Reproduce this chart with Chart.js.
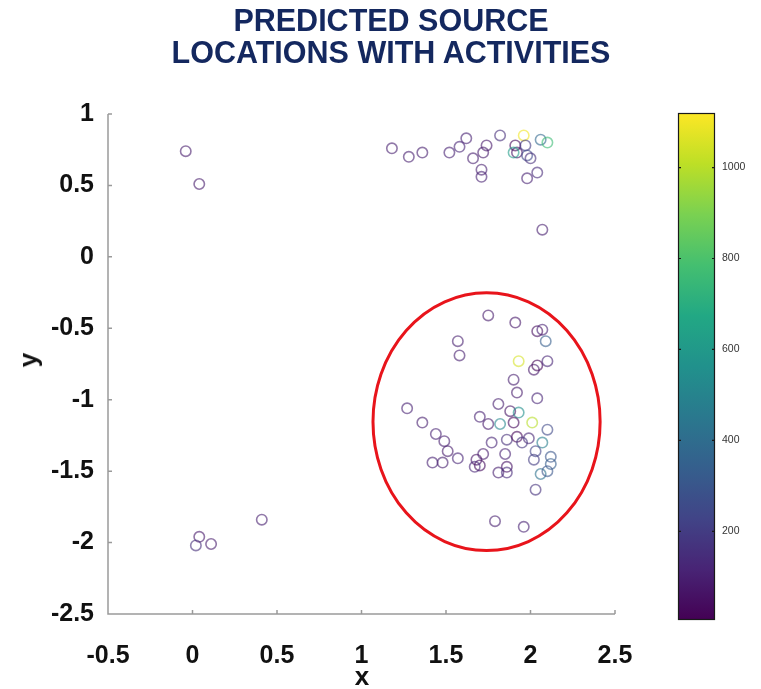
<!DOCTYPE html>
<html>
<head>
<meta charset="utf-8">
<script src="https://cdn.jsdelivr.net/npm/chart.js@4/dist/chart.umd.min.js"></script>
<style>
  html, body { margin: 0; padding: 0; background: #fff; }
  #wrap { position: relative; width: 761px; height: 689px; overflow: hidden;
          font-family: "Liberation Sans", Arial, sans-serif; }
  #title { position: absolute; left: 0; top: 4px; width: 782px; text-align: center;
           color: #14285f; font-weight: bold; font-size: 30.5px; line-height: 32px; }
  #main { position: absolute; left: 0; top: 0; }
  #cbar { position: absolute; left: 660px; top: 0; }
  .axt { position: absolute; font-weight: bold; font-size: 26px; color: #111; line-height: 1; }
  #xt { left: 362px; top: 676px; transform: translate(-50%, -50%); }
  #yt { left: 28px; top: 360px; transform: translate(-50%, -50%) rotate(-90deg); }
</style>
</head>
<body>
<div id="wrap">
  <canvas id="main" width="761" height="689" style="width:761px;height:689px"></canvas>
  <canvas id="cbar" width="101" height="689" style="width:101px;height:689px"></canvas>
  <div id="title">PREDICTED SOURCE<br>LOCATIONS WITH ACTIVITIES</div>
  <div class="axt" id="xt">x</div>
  <div class="axt" id="yt">y</div>
</div>
<script>
// Predicted source positions and their activities
const xs = [
  -0.04, 0.04, 0.41, 0.04, 0.02, 0.11,
  1.18, 1.28, 1.36, 1.52, 1.58, 1.62, 1.66, 1.72, 1.74, 1.71, 1.71, 1.82,
  1.91, 1.92, 1.96, 1.97, 1.90, 1.98, 2.00, 2.06, 2.10, 2.04, 1.98, 2.07,
  1.75, 1.91, 2.04, 2.07, 2.09, 1.57, 1.58, 1.93, 2.02, 2.04, 2.10, 1.90,
  1.92, 2.04, 1.27, 1.81, 1.36, 1.70, 1.88, 1.93, 1.75, 1.82, 1.90, 2.01,
  2.10, 1.44, 1.49, 1.51, 1.57, 1.42, 1.48, 1.77, 1.86, 1.92, 1.95, 1.99,
  2.07, 2.03, 1.72, 1.68, 1.70, 1.67, 1.85, 1.86, 1.81, 1.86, 2.02, 2.12,
  2.12, 2.06, 2.10, 2.03, 1.79, 1.96
];
const ys = [
  0.74, 0.51, -1.84, -1.96, -2.02, -2.01,
  0.76, 0.70, 0.73, 0.73, 0.77, 0.83, 0.69, 0.73, 0.78, 0.61, 0.56, 0.85,
  0.78, 0.73, 0.85, 0.78, 0.73, 0.71, 0.69, 0.82, 0.80, 0.59, 0.55, 0.19,
  -0.41, -0.46, -0.52, -0.51, -0.59, -0.59, -0.69, -0.73, -0.79, -0.76, -0.73, -0.86,
  -0.95, -0.99, -1.06, -1.03, -1.16, -1.12, -1.08, -1.09, -1.17, -1.17, -1.16, -1.16,
  -1.21, -1.24, -1.29, -1.36, -1.41, -1.44, -1.44, -1.30, -1.28, -1.26, -1.30, -1.27,
  -1.30, -1.36, -1.38, -1.42, -1.46, -1.47, -1.38, -1.47, -1.51, -1.51, -1.42, -1.40,
  -1.45, -1.52, -1.50, -1.63, -1.85, -1.89
];
const activities = [
  90, 90, 100, 80, 150, 90,
  100, 100, 100, 110, 120, 110, 100, 90, 80, 100, 110, 150,
  30, 60, 1100, 200, 620, 250, 150, 380, 760, 140, 110, 100,
  90, 80, 40, 110, 330, 100, 100, 1050, 80, 20, 120, 100,
  90, 120, 110, 100, 100, 110, 60, 560, 90, 520, 30, 1000,
  250, 110, 100, 90, 120, 110, 100, 120, 150, 20, 180, 130,
  480, 230, 90, 60, 40, 120, 110, 60, 100, 140, 200, 300,
  330, 420, 300, 160, 100, 110
];

// Axis ticks and colour scale range
const xTicks = [-0.5, 0, 0.5, 1, 1.5, 2, 2.5];
const yTicks = [1, 0.5, 0, -0.5, -1, -1.5, -2, -2.5];
const cbTicks = [200, 400, 600, 800, 1000];
const cbMin = 5, cbMax = 1120;

// Highlighted region (ellipse in data units)
const regionCenter = { x: 1.74, y: -1.154 };
const regionRadius = { x: 0.672, y: 0.902 };

// Viridis colour map
const viridis = ['#440154', '#482475', '#414487', '#355f8d', '#2a788e', '#21918c',
                 '#22a884', '#44bf70', '#7ad151', '#bddf26', '#fde725'];
function hexRgb(h) { return [1, 3, 5].map(i => parseInt(h.substr(i, 2), 16)); }
function viridisAt(t) {
  t = Math.max(0, Math.min(1, t));
  const p = t * (viridis.length - 1);
  const i = Math.min(Math.floor(p), viridis.length - 2);
  const f = p - i;
  const a = hexRgb(viridis[i]), b = hexRgb(viridis[i + 1]);
  return a.map((v, k) => Math.round(v + (b[k] - v) * f));
}
function activityColor(v, alpha) {
  const c = viridisAt((v - cbMin) / (cbMax - cbMin));
  return `rgba(${c[0]},${c[1]},${c[2]},${alpha})`;
}

const FONT = '"Liberation Sans", Arial, sans-serif';
const plainLabel = v => String(v);
const points = xs.map((x, i) => ({ x: x, y: ys[i] }));

// Left/bottom axis lines with short inward ticks
const axisPlugin = {
  id: 'axisLines',
  afterDraw(chart) {
    const { ctx, chartArea: a, scales } = chart;
    ctx.save();
    ctx.strokeStyle = '#9a9a9a';
    ctx.lineWidth = 1.5;
    ctx.beginPath();
    ctx.moveTo(a.left, a.top);
    ctx.lineTo(a.left, a.bottom);
    ctx.lineTo(a.right, a.bottom);
    xTicks.forEach(v => {
      const px = scales.x.getPixelForValue(v);
      ctx.moveTo(px, a.bottom);
      ctx.lineTo(px, a.bottom - 4);
    });
    yTicks.forEach(v => {
      const py = scales.y.getPixelForValue(v);
      ctx.moveTo(a.left, py);
      ctx.lineTo(a.left + 4, py);
    });
    ctx.stroke();
    ctx.restore();
  }
};

// Red ellipse marking the cluster
const regionPlugin = {
  id: 'region',
  afterDatasetsDraw(chart) {
    const { ctx, scales } = chart;
    const cx = scales.x.getPixelForValue(regionCenter.x);
    const cy = scales.y.getPixelForValue(regionCenter.y);
    const rx = Math.abs(scales.x.getPixelForValue(regionCenter.x + regionRadius.x) - cx);
    const ry = Math.abs(scales.y.getPixelForValue(regionCenter.y + regionRadius.y) - cy);
    ctx.save();
    ctx.strokeStyle = '#e8141b';
    ctx.lineWidth = 3;
    ctx.beginPath();
    ctx.ellipse(cx, cy, rx, ry, 0, 0, Math.PI * 2);
    ctx.stroke();
    ctx.restore();
  }
};

new Chart(document.getElementById('main'), {
  type: 'scatter',
  data: {
    datasets: [{
      data: points,
      showLine: false,
      pointRadius: 5.2,
      pointBorderWidth: 1.6,
      pointBackgroundColor: 'rgba(0,0,0,0)',
      pointBorderColor: ctx => activityColor(activities[ctx.dataIndex], 0.6)
    }]
  },
  options: {
    responsive: false,
    animation: false,
    events: [],
    layout: { padding: { left: 0, top: 114, right: 146, bottom: 0 } },
    plugins: { legend: { display: false }, tooltip: { enabled: false }, title: { display: false } },
    scales: {
      x: {
        type: 'linear', min: -0.5, max: 2.5,
        afterBuildTicks: s => { s.ticks = xTicks.map(v => ({ value: v })); },
        afterFit: s => { s.height = 75; s.paddingLeft = 0; s.paddingRight = 0; },
        ticks: { padding: 27, color: '#111', maxRotation: 0, autoSkip: false,
                 callback: plainLabel,
                 font: { family: FONT, size: 25, weight: 'bold' } },
        grid: { display: false, drawTicks: false },
        border: { display: false }
      },
      y: {
        type: 'linear', min: -2.5, max: 1,
        afterBuildTicks: s => { s.ticks = yTicks.map(v => ({ value: v })); },
        afterFit: s => { s.width = 108; s.paddingTop = 0; s.paddingBottom = 0; },
        ticks: { padding: 14, color: '#111', autoSkip: false,
                 callback: plainLabel,
                 font: { family: FONT, size: 25, weight: 'bold' } },
        grid: { display: false, drawTicks: false },
        border: { display: false }
      }
    }
  },
  plugins: [axisPlugin, regionPlugin]
});

// Colour bar
const colorbarPlugin = {
  id: 'colorbar',
  beforeDraw(chart) {
    const { ctx, chartArea: a, scales } = chart;
    const sc = scales.y;
    const g = ctx.createLinearGradient(0, a.bottom, 0, a.top);
    viridis.forEach((c, i) => g.addColorStop(i / (viridis.length - 1), c));
    ctx.save();
    ctx.fillStyle = g;
    ctx.fillRect(a.left, a.top, a.right - a.left, a.bottom - a.top);
    ctx.strokeStyle = '#1a1a1a';
    ctx.lineWidth = 1.2;
    ctx.strokeRect(a.left + 0.5, a.top + 0.5, a.right - a.left - 1, a.bottom - a.top - 1);
    ctx.beginPath();
    cbTicks.forEach(v => {
      const py = sc.getPixelForValue(v);
      ctx.moveTo(a.left, py); ctx.lineTo(a.left + 3, py);
      ctx.moveTo(a.right, py); ctx.lineTo(a.right - 3, py);
    });
    ctx.stroke();
    ctx.restore();
  }
};

new Chart(document.getElementById('cbar'), {
  type: 'scatter',
  data: { datasets: [] },
  options: {
    responsive: false,
    animation: false,
    events: [],
    layout: { padding: { left: 18, top: 113, right: 0, bottom: 69 } },
    plugins: { legend: { display: false }, tooltip: { enabled: false } },
    scales: {
      x: { display: false, min: 0, max: 1 },
      y: {
        type: 'linear', position: 'right', min: cbMin, max: cbMax,
        afterBuildTicks: s => { s.ticks = cbTicks.map(v => ({ value: v })); },
        afterFit: s => { s.width = 46; s.paddingTop = 0; s.paddingBottom = 0; },
        ticks: { padding: 7, color: '#333', autoSkip: false,
                 callback: plainLabel,
                 font: { family: FONT, size: 10.5 } },
        grid: { display: false, drawTicks: false },
        border: { display: false }
      }
    }
  },
  plugins: [colorbarPlugin]
});
</script>
</body>
</html>
